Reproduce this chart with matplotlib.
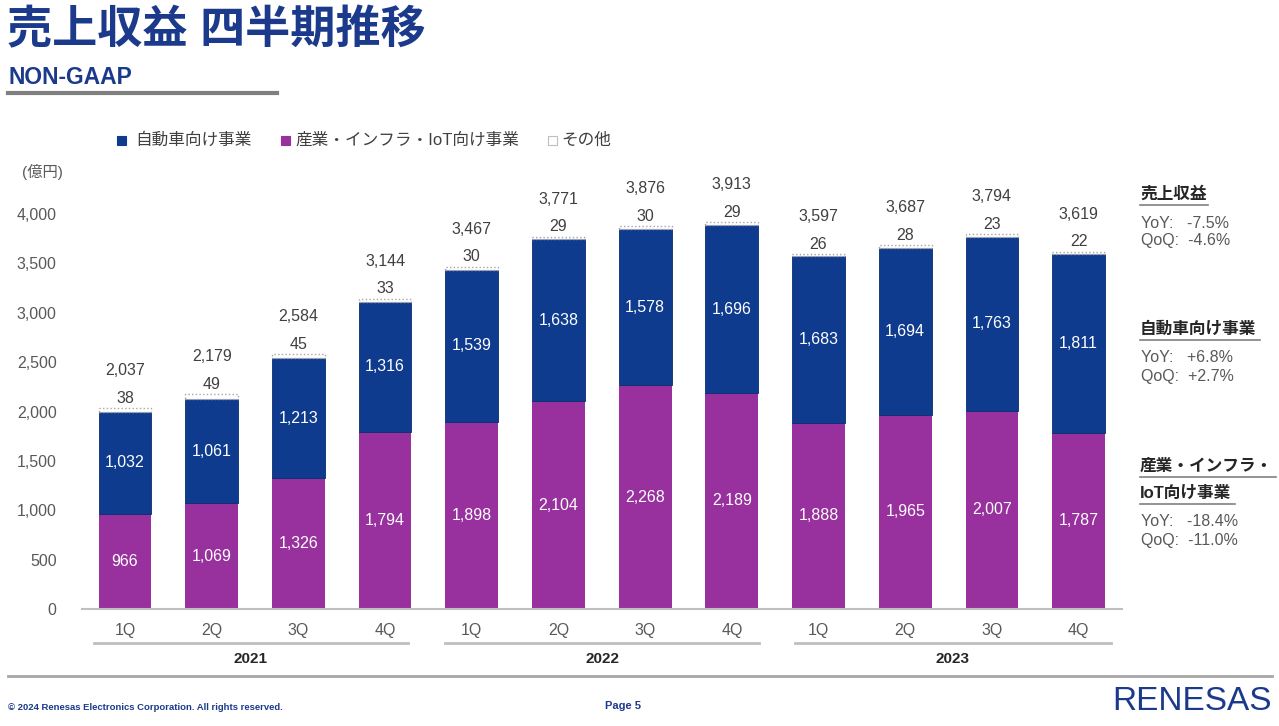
import matplotlib
matplotlib.use("Agg")
from matplotlib import pyplot as plt
from matplotlib.patches import Rectangle
from matplotlib.lines import Line2D

plt.rcParams['font.family'] = ['Liberation Sans', 'Noto Sans CJK JP']

# data (億円)
quarters = ['1Q', '2Q', '3Q', '4Q', '1Q', '2Q', '3Q', '4Q', '1Q', '2Q', '3Q', '4Q']
years = ['2021', '2022', '2023']
industrial = [966, 1069, 1326, 1794, 1898, 2104, 2268, 2189, 1888, 1965, 2007, 1787]
automotive = [1032, 1061, 1213, 1316, 1539, 1638, 1578, 1696, 1683, 1694, 1763, 1811]
other = [38, 49, 45, 33, 30, 29, 30, 29, 26, 28, 23, 22]
total = [2037, 2179, 2584, 3144, 3467, 3771, 3876, 3913, 3597, 3687, 3794, 3619]
yticks = [0, 500, 1000, 1500, 2000, 2500, 3000, 3500, 4000]

blue = '#0E3B8E'
purple = '#98309D'
navy = '#1C3A8C'
gray_txt = '#595959'

W, H = 1279, 726
def fx(p):
    return p / W
def fy(p):
    return 1 - p / H

fig = plt.figure(figsize=(12.79, 7.26), dpi=100)

# header
fig.text(fx(7), fy(31), '売上収益 四半期推移', fontsize=32.5, fontweight='bold',
         color=navy, va='center', ha='left')
fig.text(fx(8), fy(77), 'NON-GAAP', fontsize=16.5, fontweight='bold',
         color=navy, va='center', ha='left')
fig.add_artist(Line2D([fx(8), fx(277)], [fy(93), fy(93)], color='#808080', lw=3))

# chart
ax = fig.add_axes([81.6 / W, 1 - 609 / H, 1040.4 / W, 395 / H])
x = list(range(len(quarters)))
bw = 0.61
base2 = [a + b for a, b in zip(industrial, automotive)]
ax.bar(x, industrial, bw, color=purple)
ax.bar(x, automotive, bw, bottom=industrial, color=blue, edgecolor='#0A2E70', lw=0.6)
ax.bar(x, other, bw, bottom=base2, color='white', edgecolor='#A6A6A6', lw=1, linestyle=':')

for i in x:
    ax.text(i, industrial[i] / 2, f'{industrial[i]:,}', color='white', fontsize=11.5,
            ha='center', va='center')
    ax.text(i, industrial[i] + automotive[i] / 2, f'{automotive[i]:,}', color='white',
            fontsize=11.5, ha='center', va='center')
    top = base2[i] + other[i]
    ax.annotate(f'{other[i]}', (i, top), xytext=(0, 7), textcoords='offset points',
                ha='center', va='center', fontsize=11.5, color='#404040')
    ax.annotate(f'{total[i]:,}', (i, top), xytext=(0, 27), textcoords='offset points',
                ha='center', va='center', fontsize=11.5, color='#404040')

ax.set_xlim(-0.5, 11.5)
ax.set_ylim(0, 4000)
ax.set_yticks(yticks)
ax.set_yticklabels([f'{v:,}' for v in yticks], fontsize=11.5, color=gray_txt)
ax.set_xticks(x)
ax.set_xticklabels(quarters, fontsize=11.5, color=gray_txt)
ax.tick_params(length=0, axis='y', pad=18)
ax.tick_params(length=0, axis='x', pad=10)
for s in ['top', 'right', 'left']:
    ax.spines[s].set_visible(False)
ax.spines['bottom'].set_color('#BFBFBF')
ax.spines['bottom'].set_linewidth(1.5)
ax.set_facecolor('none')

fig.text(fx(22), fy(172), '(億円)', fontsize=11, color=gray_txt, ha='left', va='center')

# year groups
year_spans = [(94, 408), (445, 759), (795, 1111)]
for (a, b), yr in zip(year_spans, years):
    fig.add_artist(Line2D([fx(a), fx(b)], [fy(643), fy(643)], color='#BFBFBF', lw=2))
    fig.text(fx((a + b) / 2), fy(659), yr, fontsize=11, fontweight='bold',
             color='#262626', ha='center', va='center')

# legend
legend_items = [(121, 135, '自動車向け事業', blue, blue),
                (285, 295, '産業・インフラ・IoT向け事業', purple, purple),
                (552, 561, 'その他', 'white', '#BFBFBF')]
for sx, tx, lab, fc, ec in legend_items:
    fig.add_artist(Rectangle((fx(sx - 4.5), fy(144.5)), 9 / W, 9 / H, facecolor=fc,
                             edgecolor=ec, lw=0.8))
    fig.text(fx(tx), fy(140), lab, fontsize=12, color='#404040', ha='left', va='center')

# right panel
def heading(y, txt, width):
    fig.text(fx(1140), fy(y), txt, fontsize=12, fontweight='bold', color='#262626',
             ha='left', va='center')
    fig.add_artist(Line2D([fx(1140), fx(1140 + width)], [fy(y + 11), fy(y + 11)],
                          color='#808080', lw=1.2))

heading(194, '売上収益', 68)
fig.text(fx(1141), fy(223), 'YoY:   -7.5%', fontsize=11.5, color=gray_txt, va='center')
fig.text(fx(1141), fy(241), 'QoQ:  -4.6%', fontsize=11.5, color=gray_txt, va='center')
heading(329, '自動車向け事業', 120)
fig.text(fx(1141), fy(357), 'YoY:   +6.8%', fontsize=11.5, color=gray_txt, va='center')
fig.text(fx(1141), fy(376), 'QoQ:  +2.7%', fontsize=11.5, color=gray_txt, va='center')
heading(466, '産業・インフラ・', 136)
heading(493, 'IoT向け事業', 95)
fig.text(fx(1141), fy(522), 'YoY:   -18.4%', fontsize=11.5, color=gray_txt, va='center')
fig.text(fx(1141), fy(541), 'QoQ:  -11.0%', fontsize=11.5, color=gray_txt, va='center')

# footer
fig.add_artist(Line2D([fx(8), fx(1272)], [fy(676), fy(676)], color='#A6A6A6', lw=2))
fig.text(fx(8), fy(707), '© 2024 Renesas Electronics Corporation. All rights reserved.',
         fontsize=6.8, fontweight='bold', color=navy, ha='left', va='center')
fig.text(fx(623), fy(706), 'Page 5', fontsize=8, fontweight='bold', color=navy,
         ha='center', va='center')
fig.text(fx(1272), fy(701), 'RENESAS', fontsize=24, color=navy, ha='right',
         va='center', fontstretch='condensed')

fig.savefig('out.png', dpi=100)
